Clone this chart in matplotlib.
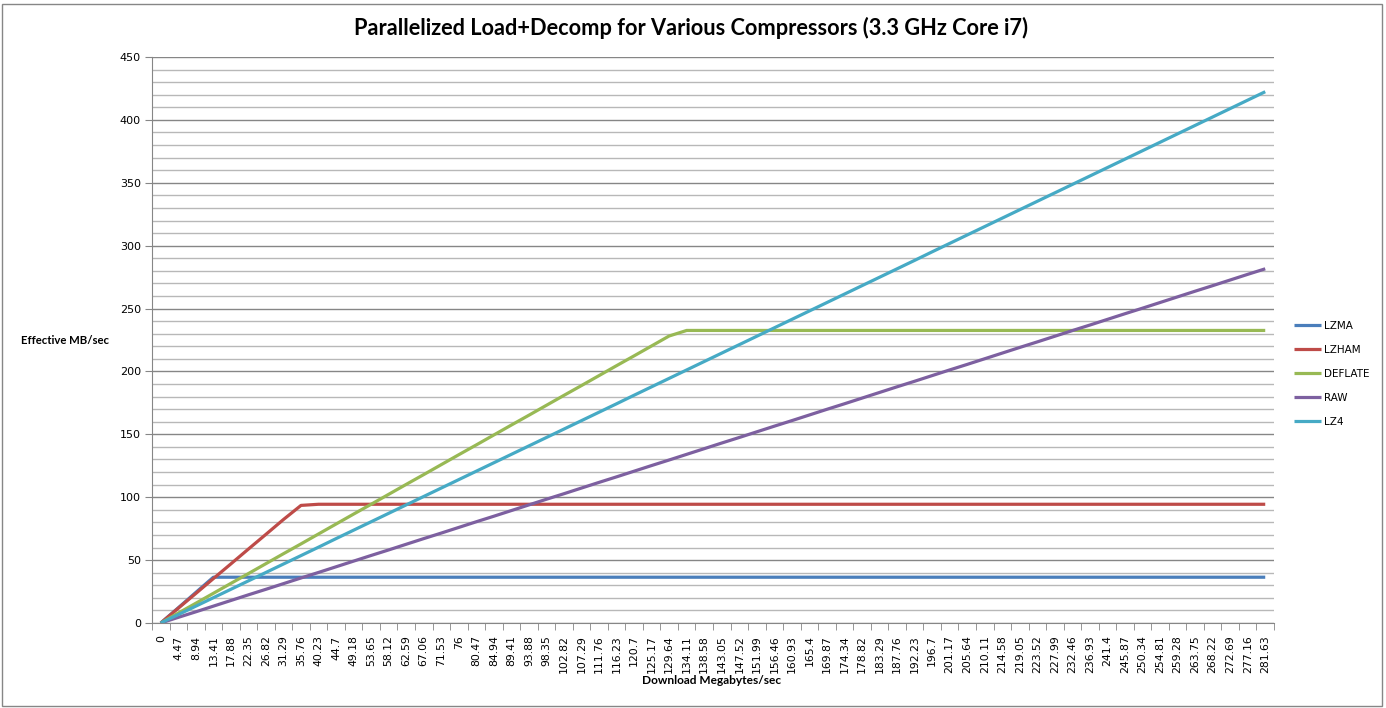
import numpy as np
import matplotlib
matplotlib.use("Agg")
import matplotlib.pyplot as plt
from matplotlib.patches import Rectangle
from matplotlib.ticker import MultipleLocator, FixedLocator

# download speed categories (MB/sec)
speeds = ["0", "4.47", "8.94", "13.41", "17.88", "22.35", "26.82", "31.29", "35.76", "40.23",
          "44.7", "49.18", "53.65", "58.12", "62.59", "67.06", "71.53", "76", "80.47", "84.94",
          "89.41", "93.88", "98.35", "102.82", "107.29", "111.76", "116.23", "120.7", "125.17", "129.64",
          "134.11", "138.58", "143.05", "147.52", "151.99", "156.46", "160.93", "165.4", "169.87", "174.34",
          "178.82", "183.29", "187.76", "192.23", "196.7", "201.17", "205.64", "210.11", "214.58", "219.05",
          "223.52", "227.99", "232.46", "236.93", "241.4", "245.87", "250.34", "254.81", "259.28", "263.75",
          "268.22", "272.69", "277.16", "281.63"]

lzma = [0, 12.1, 24.3, 36.4] + [36.4] * 60
lzham = [0, 11.8, 23.5, 35.3, 47.0, 58.8, 70.5, 82.3, 93.5] + [94.4] * 55
deflate = [0, 7.9, 15.7, 23.6, 31.5, 39.3, 47.2, 55.1, 62.9, 70.8,
           78.7, 86.6, 94.4, 102.3, 110.2, 118.0, 125.9, 133.8, 141.6, 149.5,
           157.4, 165.2, 173.1, 181.0, 188.8, 196.7, 204.6, 212.4, 220.3, 228.2] + [232.6] * 34
raw = [0, 4.5, 8.9, 13.4, 17.9, 22.4, 26.8, 31.3, 35.8, 40.2,
       44.7, 49.2, 53.7, 58.1, 62.6, 67.1, 71.5, 76.0, 80.5, 84.9,
       89.4, 93.9, 98.4, 102.8, 107.3, 111.8, 116.2, 120.7, 125.2, 129.6,
       134.1, 138.6, 143.1, 147.5, 152.0, 156.5, 160.9, 165.4, 169.9, 174.3,
       178.8, 183.3, 187.8, 192.2, 196.7, 201.2, 205.6, 210.1, 214.6, 219.1,
       223.5, 228.0, 232.5, 236.9, 241.4, 245.9, 250.3, 254.8, 259.3, 263.8,
       268.2, 272.7, 277.2, 281.6]
lz4 = [0, 6.7, 13.4, 20.1, 26.8, 33.5, 40.2, 46.9, 53.6, 60.3,
       67.1, 73.8, 80.5, 87.2, 93.9, 100.6, 107.3, 114.0, 120.7, 127.4,
       134.1, 140.8, 147.5, 154.2, 160.9, 167.6, 174.3, 181.1, 187.8, 194.5,
       201.2, 207.9, 214.6, 221.3, 228.0, 234.7, 241.4, 248.1, 254.8, 261.5,
       268.2, 274.9, 281.6, 288.3, 295.1, 301.8, 308.5, 315.2, 321.9, 328.6,
       335.3, 342.0, 348.7, 355.4, 362.1, 368.8, 375.5, 382.2, 388.9, 395.6,
       402.3, 409.0, 415.7, 422.4]

series = [("LZMA", lzma, "#4a7ebb"),
          ("LZHAM", lzham, "#be4b48"),
          ("DEFLATE", deflate, "#98b954"),
          ("RAW", raw, "#7d60a0"),
          ("LZ4", lz4, "#46aac5")]

W, H = 1386, 708
fig = plt.figure(figsize=(W / 100, H / 100), dpi=100)
ax = fig.add_axes([152 / W, 1 - 623 / H, (1274 - 152) / W, (623 - 57) / H])

x = np.arange(len(speeds))
for name, vals, col in series:
    ax.plot(x, vals, color=col, lw=2.3, label=name, solid_joinstyle="round", solid_capstyle="butt")

ax.set_xlim(-0.5, len(speeds) - 0.5)
ax.set_ylim(0, 450)
ax.yaxis.set_major_locator(MultipleLocator(50))
ax.yaxis.set_minor_locator(MultipleLocator(10))
ax.grid(which="major", axis="y", color="#868686", lw=1)
ax.grid(which="minor", axis="y", color="#b8b8b8", lw=1)
ax.set_axisbelow(True)

ax.set_xticks(x)
ax.set_xticklabels(speeds, rotation=90, fontsize=7.8, family="DejaVu Sans")
ax.xaxis.set_minor_locator(FixedLocator(np.arange(-0.5, len(speeds), 1.0)))
ax.tick_params(axis="x", which="major", length=0, pad=9)
ax.tick_params(axis="x", which="minor", length=5, color="#868686")
ax.tick_params(axis="y", which="major", length=5, color="#868686", labelsize=8, pad=3)
ax.tick_params(axis="y", which="minor", length=0)

for s in ["top", "right"]:
    ax.spines[s].set_visible(False)
for s in ["left", "bottom"]:
    ax.spines[s].set_color("#868686")

fig.text(691 / W, 1 - 28 / H, "Parallelized Load+Decomp for Various Compressors (3.3 GHz Core i7)",
         ha="center", va="center", fontsize=15.7, fontweight="bold", family="Lato")
fig.text(21 / W, 1 - 340 / H, "Effective MB/sec", ha="left", va="center",
         fontsize=8.2, fontweight="bold", family="Lato")
fig.text(712 / W, 1 - 681 / H, "Download Megabytes/sec", ha="center", va="center",
         fontsize=8.6, fontweight="bold", family="Lato")

leg = ax.legend(loc="center left", bbox_to_anchor=(1285 / W, 1 - 374 / H),
                bbox_transform=fig.transFigure, frameon=False, fontsize=7.5,
                handlelength=2.6, handletextpad=0.2, labelspacing=1.35)

fig.patches.append(Rectangle((2 / W, 2 / H), (1382 - 2) / W, (706 - 4) / H, transform=fig.transFigure,
                             fill=False, edgecolor="#868686", lw=1))

fig.savefig("out.png", dpi=100, facecolor="white")
